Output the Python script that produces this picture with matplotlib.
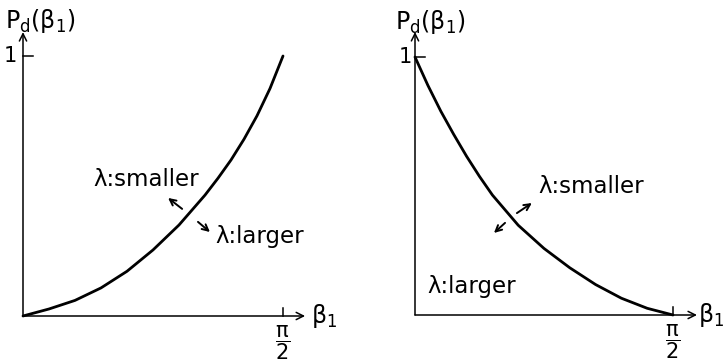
import numpy as np
import matplotlib
matplotlib.use('Agg')
import matplotlib.pyplot as plt

plt.rcParams['font.family'] = ['DejaVu Sans']
plt.rcParams['mathtext.fontset'] = 'dejavusans'

HALF_PI = np.pi / 2

# beta_1 as a fraction of pi/2, and P_d(beta_1)
beta_left = [0.0, 0.1, 0.2, 0.3, 0.4, 0.5, 0.6, 0.7, 0.75, 0.8, 0.85, 0.9,
             0.95, 1.0]
pd_left = [0.0, 0.027, 0.060, 0.108, 0.172, 0.254, 0.350, 0.465, 0.530, 0.600,
           0.680, 0.770, 0.875, 1.0]

beta_right = [0.0, 0.05, 0.1, 0.15, 0.2, 0.25, 0.3, 0.4, 0.5, 0.6, 0.7, 0.8,
              0.9, 1.0]
pd_right = [1.0, 0.890, 0.790, 0.700, 0.615, 0.537, 0.465, 0.348, 0.258,
            0.183, 0.118, 0.065, 0.026, 0.0]

YLABEL = r'$\mathregular{P_d(β_1)}$'
XLABEL = r'$\mathregular{β_1}$'
XTICK = r'$\dfrac{\mathregular{π}}{\mathregular{2}}$'


def draw_panel(ax, bx, py, x_end, y_end, ylab_x, one_x, xlab_x):
    ax.set_xlim(0, HALF_PI)
    ax.set_ylim(0, 1)
    ax.axis('off')

    # axes with open arrow heads
    arr = dict(arrowstyle='->', lw=1.1, color='black', shrinkA=0, shrinkB=0,
               mutation_scale=13)
    ax.annotate('', xy=(x_end * HALF_PI, 0), xytext=(0, 0), arrowprops=arr,
                annotation_clip=False)
    ax.annotate('', xy=(0, y_end), xytext=(0, 0), arrowprops=arr,
                annotation_clip=False)

    # ticks at 1 and pi/2
    ax.plot([0, 0.038 * HALF_PI], [1, 1], color='black', lw=1.1, clip_on=False)
    ax.plot([HALF_PI, HALF_PI], [0, 0.03], color='black', lw=1.1, clip_on=False)

    ax.plot(np.array(bx) * HALF_PI, py, color='black', lw=2.0,
            solid_capstyle='round', solid_joinstyle='round', clip_on=False)

    ax.text(ylab_x * HALF_PI, 1.135, YLABEL, fontsize=17, ha='left', va='center')
    ax.text(one_x * HALF_PI, 1.0, '1', fontsize=15, ha='center', va='center')
    ax.text(HALF_PI, -0.03, XTICK, fontsize=15, ha='center', va='top')
    ax.text(xlab_x * HALF_PI, 0.0, XLABEL, fontsize=17, ha='left', va='center')


def small_arrow(ax, tail, head):
    ax.annotate('', xy=(head[0] * HALF_PI, head[1]),
                xytext=(tail[0] * HALF_PI, tail[1]),
                arrowprops=dict(arrowstyle='->', lw=1.4, color='black',
                                shrinkA=0, shrinkB=0, mutation_scale=11),
                annotation_clip=False)


fig = plt.figure(figsize=(7.28, 3.62), dpi=100)
W, H = 728.0, 362.0

ax1 = fig.add_axes([23 / W, (H - 316) / H, 260 / W, 260 / H])
draw_panel(ax1, beta_left, pd_left, 1.085, 1.092, -0.069, -0.05, 1.108)
ax1.text(0.269 * HALF_PI, 0.50, 'λ:smaller', fontsize=16.5, ha='left', va='baseline')
ax1.text(0.738 * HALF_PI, 0.281, 'λ:larger', fontsize=16.5, ha='left', va='baseline')
small_arrow(ax1, (0.612, 0.412), (0.558, 0.454))
small_arrow(ax1, (0.673, 0.362), (0.719, 0.323))

ax2 = fig.add_axes([415 / W, (H - 315) / H, 258 / W, 258 / H])
draw_panel(ax2, beta_right, pd_right, 1.093, 1.097, -0.078, -0.039, 1.098)
ax2.text(0.477 * HALF_PI, 0.473, 'λ:smaller', fontsize=16.5, ha='left', va='baseline')
ax2.text(0.047 * HALF_PI, 0.085, 'λ:larger', fontsize=16.5, ha='left', va='baseline')
small_arrow(ax2, (0.395, 0.395), (0.453, 0.434))
small_arrow(ax2, (0.349, 0.357), (0.306, 0.318))

fig.savefig('out.png', dpi=100)
